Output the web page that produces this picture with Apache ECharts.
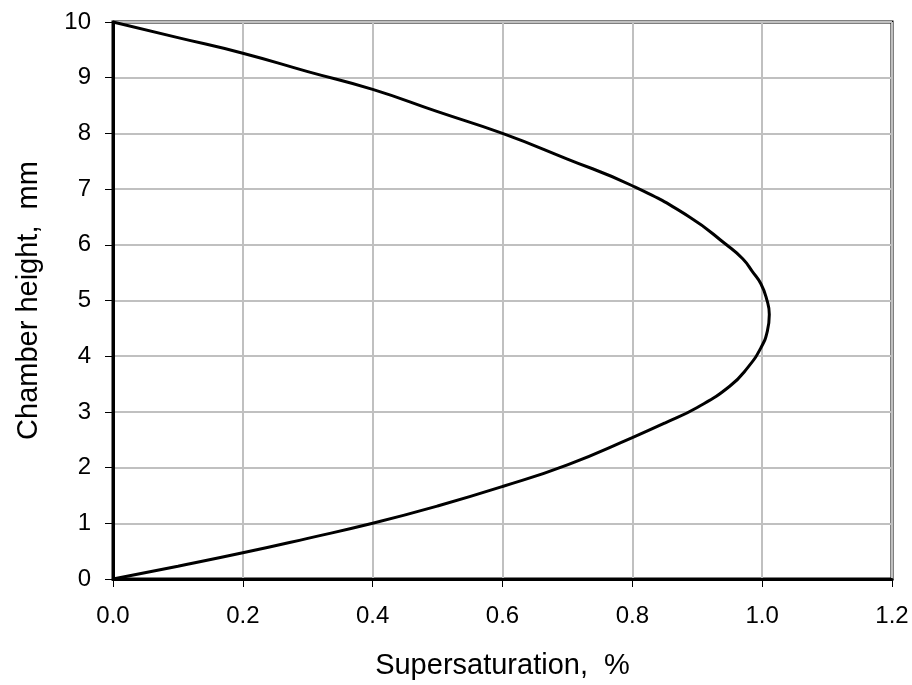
<!DOCTYPE html>
<html>
<head>
<meta charset="utf-8">
<script src="https://cdn.jsdelivr.net/npm/echarts@6/dist/echarts.min.js"></script>
<style>
html,body{margin:0;padding:0;background:#fff;}
#chart{width:912px;height:685px;}
</style>
</head>
<body>
<div id="chart"></div>
<script>
var supersaturation = [0, 0.1, 0.2, 0.3, 0.4, 0.5, 0.6, 0.7, 0.8, 0.85, 0.9, 0.95, 0.978, 0.998, 1.008, 1.011, 1.007, 0.998, 0.985, 0.97, 0.945, 0.888, 0.8, 0.7, 0.6, 0.5, 0.4, 0.3, 0.2, 0.1, 0];
var chamberHeight   = [0, 0.23, 0.47, 0.73, 1.0, 1.31, 1.66, 2.05, 2.54, 2.8, 3.08, 3.46, 3.8, 4.15, 4.45, 4.75, 5.02, 5.3, 5.52, 5.75, 6.0, 6.5, 7.06, 7.54, 8.0, 8.39, 8.79, 9.11, 9.44, 9.72, 10];
var xTicks = [0, 0.2, 0.4, 0.6, 0.8, 1.0, 1.2];
var yTicks = [0, 1, 2, 3, 4, 5, 6, 7, 8, 9, 10];

var points = supersaturation.map(function (x, i) { return [x, chamberHeight[i]]; });
var font = '"Liberation Sans", Arial, sans-serif';

var chart = echarts.init(document.getElementById('chart'), null, {renderer: 'canvas'});
chart.setOption({
  animation: false,
  backgroundColor: '#fff',
  grid: {
    left: 113, right: 20, top: 22, bottom: 103,
    show: true, borderColor: '#000', borderWidth: 3, backgroundColor: 'transparent'
  },
  xAxis: {
    type: 'value', min: xTicks[0], max: xTicks[xTicks.length - 1], interval: 0.2,
    name: 'Supersaturation,  %', nameLocation: 'middle', nameGap: 72,
    nameTextStyle: {fontFamily: font, fontSize: 29, color: '#000'},
    axisLine: {show: true, onZero: false, lineStyle: {color: '#000', width: 3}},
    axisTick: {show: true, inside: false, length: 8, lineStyle: {color: '#000', width: 1}},
    axisLabel: {fontFamily: font, fontSize: 24, color: '#000', margin: 25,
      formatter: function (v) { return v.toFixed(1); }},
    splitLine: {show: true, lineStyle: {color: '#c0c0c0', width: 2}}
  },
  yAxis: {
    type: 'value', min: yTicks[0], max: yTicks[yTicks.length - 1], interval: 1,
    name: 'Chamber height,  mm', nameLocation: 'middle', nameGap: 70,
    nameTextStyle: {fontFamily: font, fontSize: 29, color: '#000'},
    axisLine: {show: true, onZero: false, lineStyle: {color: '#000', width: 3}},
    axisTick: {show: true, inside: false, length: 8, lineStyle: {color: '#000', width: 1}},
    axisLabel: {fontFamily: font, fontSize: 24, color: '#000', margin: 22},
    splitLine: {show: true, lineStyle: {color: '#c0c0c0', width: 2}}
  },
  series: [{
    type: 'line',
    data: points,
    smooth: 0.5,
    showSymbol: false,
    symbol: 'none',
    lineStyle: {color: '#000', width: 3},
    z: 5
  }]
});
</script>
</body>
</html>
